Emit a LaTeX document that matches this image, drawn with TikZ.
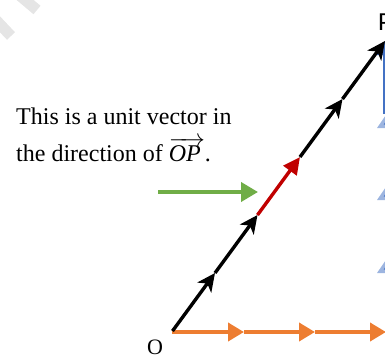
\documentclass[tikz,border=0pt]{standalone}
\usepackage{fontspec}
\setmainfont{Liberation Serif}
\newfontfamily\labsans{Carlito}
\usetikzlibrary{arrows.meta}
\definecolor{offred}{HTML}{C00000}
\definecolor{offorange}{HTML}{ED7D31}
\definecolor{offgreen}{HTML}{70AD47}
\definecolor{offblue}{HTML}{4472C4}
\definecolor{offlightblue}{HTML}{9DB5E0}
\begin{document}
\begin{tikzpicture}[x=1pt,y=-1pt,
  blkvec/.style={draw=black,line width=3.4pt,-{Stealth[length=18pt,width=17pt,inset=5pt]}},
  redvec/.style={draw=offred,line width=3.4pt,-{Triangle[length=17pt,width=16pt]}},
  orvec/.style={draw=offorange,line width=3.8pt,-{Triangle[length=16pt,width=18pt]}},
  bluevec/.style={draw=offblue,line width=3.4pt,-{Triangle[length=14pt,width=18pt]}},
  lbluevec/.style={draw=offlightblue,line width=3.4pt,-{Triangle[length=14pt,width=18pt,fill=offblue]}},
  grvec/.style={draw=offgreen,line width=3.8pt,-{Triangle[length=17pt,width=19pt]}},
  txt/.style={font=\fontsize{24}{35}\selectfont,inner sep=0pt,anchor=base west},
  wmark/.style={draw=gray!20,line width=11pt}]
\useasboundingbox (0,0) rectangle (385,356);
\clip (0,0) rectangle (385,356);
% watermark fragments
\draw[wmark] (18,-6) -- (37,10);
\draw[wmark] (-6,18) -- (11,36);
% points
\coordinate (O) at (172.5,331);
\coordinate (A1) at (215,273);
\coordinate (A2) at (257.5,215);
\coordinate (A3) at (300,157);
\coordinate (A4) at (342.5,99);
\coordinate (P) at (385,41);
\coordinate (Oh) at (172,332);
\coordinate (B1) at (244,332);
\coordinate (B2) at (315,332);
\coordinate (B3) at (386,332);
\coordinate (Cb) at (386.5,332);
\coordinate (C1) at (386.5,259);
\coordinate (C2) at (386.5,186);
\coordinate (C2e) at (386.5,114);
\coordinate (C2b) at (385,114);
\coordinate (C3) at (385,41);
\coordinate (G0) at (158,192);
\coordinate (G1) at (258,192);
% blue vertical unit vectors
\draw[lbluevec] (Cb) -- (C1);
\draw[lbluevec] (C1) -- (C2);
\draw[lbluevec] (C2) -- (C2e);
\draw[bluevec] (C2b) -- (C3);
% orange horizontal unit vectors
\draw[orvec] (Oh) -- (B1);
\draw[orvec] (B1) -- (B2);
\draw[orvec] (B2) -- (B3);
% black OP made of unit vectors
\draw[blkvec] (O) -- (A1);
\draw[blkvec] (A1) -- (A2);
\draw[redvec] (A2) -- (A3);
\draw[blkvec] (A3) -- (A4);
\draw[blkvec] (A4) -- (P);
% green pointer
\draw[grvec] (G0) -- (G1);
% labels
\node[txt] (t1) at (16,124) {This is a unit vector in};
\node[txt] (t2) at (16,161) {the direction of $\overrightarrow{\textit{OP}\,}$.};
\node[inner sep=0pt,anchor=base,font=\fontsize{22}{22}\selectfont] (Olab) at (155,354) {O};
\node[inner sep=0pt,anchor=base west,font=\labsans\fontsize{26}{26}\selectfont] (Plab) at (378,30) {P};
\end{tikzpicture}
\end{document}
